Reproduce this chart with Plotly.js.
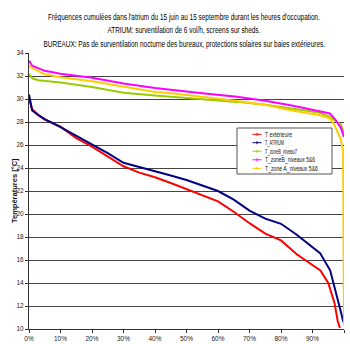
<!DOCTYPE html>
<html>
<head>
<meta charset="utf-8">
<script src="https://cdn.plot.ly/plotly-3.0.1.min.js"></script>
<style>html,body{margin:0;padding:0;background:#fff;}#chart{width:350px;height:344px;}</style>
</head>
<body>
<div id="chart"></div>
<script>
// Cumulative frequency (%) and temperatures (°C)
var extX = [0,0.5,1,3,5,10,15,20,25,30,35,40,45,50,55,60,65,70,75,80,85,90,92.5,95,96.5,97,98,98.7];
var extY = [30.0,29.6,29.1,28.6,28.2,27.6,26.6,25.85,25.0,24.15,23.6,23.2,22.7,22.15,21.65,21.1,20.2,19.2,18.3,17.7,16.5,15.6,15.1,14.0,12.8,12.25,10.7,10.1];

var atrX = [0,0.5,1,3,5,10,15,20,25,30,35,40,45,50,55,60,65,70,75,80,85,89,92.4,95.6,97,98,99,99.8];
var atrY = [30.4,29.6,29.0,28.6,28.25,27.55,26.8,26.05,25.3,24.45,24.1,23.7,23.35,22.95,22.5,22.0,21.25,20.3,19.6,19.15,18.2,17.3,16.6,15.1,13.7,12.5,11.5,10.6];

var zb7X = [0,1,3,10,20,30,40,50,60,66,75,83,92,95.5,97,99,100];
var zb7Y = [32.2,31.8,31.63,31.43,31.05,30.55,30.3,30.1,29.9,29.75,29.5,29.17,28.83,28.45,28.16,27.8,27.0];

var zb56X = [0,1,5,10,20,30,40,46,55,66,75,83,90,95.5,97,99,100];
var zb56Y = [33.35,32.9,32.45,32.2,31.85,31.35,30.95,30.76,30.5,30.2,29.85,29.46,29.05,28.74,28.3,27.5,26.7];

var za56X = [0,1,5,10,20,30,40,46,55,66,75,83,92,95.5,97,99,99.7,100];
var za56Y = [32.9,32.7,32.15,31.9,31.55,31.05,30.6,30.47,30.2,29.83,29.5,29.03,28.6,28.33,27.7,26.5,25.5,10.3];

var names = ["T extérieure","T_ATRIUM","T_zoneB_niveau7","T_zoneB_niveaux 5&6","T_zone A_niveaux 5&6"];
var colors = ["#ff0000","#000080","#99cc00","#ff00ff","#ffcc00"];
var xs = [extX, atrX, zb7X, zb56X, za56X];
var ys = [extY, atrY, zb7Y, zb56Y, za56Y];

var titleLines = [
  "Fréquences cumulées dans l'atrium du 15 juin au 15 septembre durant les heures d'occupation.",
  "ATRIUM: surventilation de 6 vol/h, screens sur sheds.",
  "BUREAUX: Pas de surventilation nocturne des bureaux, protections solaires sur baies extérieures."
];
var yTitle = "Températures [°C]";
var xTickVals = [0,10,20,30,40,50,60,70,80,90,100];
var xTickText = ['0%','10%','20%','30%','40%','50%','60%','70%','80%','90%','100%'];

var FONT = '"Liberation Sans",Arial,sans-serif';

// pixel helpers for layout placement (plot area: x 29..344, y 53..329)
var L = 29, R = 6, T = 53, B = 15, W = 350, H = 344;
var PW = W - L - R, PH = H - T - B;
function px(xp) { return (xp - L) / PW; }
function py(yp) { return (H - B - yp) / PH; }

var traces = [];
for (var i = 0; i < names.length; i++) {
  traces.push({
    x: xs[i], y: ys[i], name: names[i], type: 'scatter', mode: 'lines',
    line: {color: colors[i], width: 2}, showlegend: false
  });
}

var annotations = [];
var squeeze = [];  // {w: target width px, origin: 'center'|'left'} per annotation index
var titleY = [16.5, 29.5, 43.5];
var titleW = [272, 153, 282];
for (var k = 0; k < titleLines.length; k++) {
  annotations.push({
    text: titleLines[k], xref: 'paper', yref: 'paper',
    x: px(184), y: py(titleY[k]), xanchor: 'center', yanchor: 'middle',
    showarrow: false, font: {family: FONT, size: 9.5, color: '#000'}
  });
  squeeze.push({w: titleW[k], origin: 'center'});
}
annotations.push({
  text: '<b>' + yTitle + '</b>', xref: 'paper', yref: 'paper',
  x: px(14), y: 0.5, xanchor: 'center', yanchor: 'middle', textangle: -90,
  showarrow: false, font: {family: FONT, size: 7.5, color: '#111'}
});
squeeze.push(null);

// manual legend
var shapes = [];
var legX0 = 237, legX1 = 332, legY0 = 128, legY1 = 174;
shapes.push({type: 'rect', xref: 'paper', yref: 'paper',
  x0: px(legX0), x1: px(legX1), y0: py(legY1), y1: py(legY0),
  line: {color: '#555', width: 1}, fillcolor: '#ffffff', layer: 'above'});
var legRowY = [134.3, 142.7, 151.2, 159.8, 168.4];
var legTextW = [27, 19, 32, 50, 53];
for (var j = 0; j < names.length; j++) {
  shapes.push({type: 'line', xref: 'paper', yref: 'paper',
    x0: px(252.5), x1: px(261.5), y0: py(legRowY[j]), y1: py(legRowY[j]),
    line: {color: colors[j], width: 1}, layer: 'above'});
  shapes.push({type: 'line', xref: 'paper', yref: 'paper',
    x0: px(257), x1: px(257), y0: py(legRowY[j] - 1.5), y1: py(legRowY[j] + 1.5),
    line: {color: colors[j], width: 1}, layer: 'above'});
  annotations.push({
    text: names[j], xref: 'paper', yref: 'paper',
    x: px(262.5), y: py(legRowY[j]), xanchor: 'left', yanchor: 'middle',
    showarrow: false, font: {family: FONT, size: 7.5, color: '#111'}
  });
  squeeze.push({w: legTextW[j], origin: 'left'});
}

var layout = {
  width: W, height: H,
  margin: {l: L, r: R, t: T, b: B},
  paper_bgcolor: '#ffffff', plot_bgcolor: '#ffffff',
  font: {family: FONT, size: 8, color: '#222'},
  showlegend: false,
  annotations: annotations,
  shapes: shapes,
  xaxis: {
    range: [0, 100], tickvals: xTickVals, ticktext: xTickText,
    showgrid: false, zeroline: false, showline: true, linecolor: '#333', linewidth: 1,
    ticks: 'outside', ticklen: 3, tickcolor: '#333',
    tickfont: {family: FONT, size: 6.5, color: '#222'}
  },
  yaxis: {
    range: [10, 34], dtick: 2, tick0: 10,
    showgrid: true, gridcolor: '#444', gridwidth: 1, zeroline: false,
    showline: true, linecolor: '#333', linewidth: 1,
    ticks: 'outside', ticklen: 3, tickcolor: '#333',
    tickfont: {family: FONT, size: 6.5, color: '#222'}
  }
};

Plotly.newPlot('chart', traces, layout, {displayModeBar: false, staticPlot: true}).then(function () {
  var anns = document.querySelectorAll('#chart .annotation');
  anns.forEach(function (g) {
    var idx = +g.getAttribute('data-index');
    var sq = squeeze[idx];
    if (!sq) return;
    var t = g.querySelector('text.annotation-text');
    if (!t) return;
    var nat = t.getComputedTextLength();
    if (!nat) return;
    var s = sq.w / nat;
    var bb = t.getBBox();
    var ox = sq.origin === 'left' ? bb.x : bb.x + bb.width / 2;
    var prev = t.getAttribute('transform') || '';
    t.setAttribute('transform', prev + ' translate(' + ox + ',0) scale(' + s + ',1) translate(' + (-ox) + ',0)');
    var bg = g.querySelector('rect.bg');
    if (bg) {
      var bw = parseFloat(bg.getAttribute('width')) || 0;
      var bx = parseFloat(bg.getAttribute('x')) || 0;
      var nbw = bw * s;
      if (sq.origin === 'center') {
        bg.setAttribute('x', bx + bw / 2 - nbw / 2);
      }
      bg.setAttribute('width', nbw);
    }
  });
});
</script>
</body>
</html>
